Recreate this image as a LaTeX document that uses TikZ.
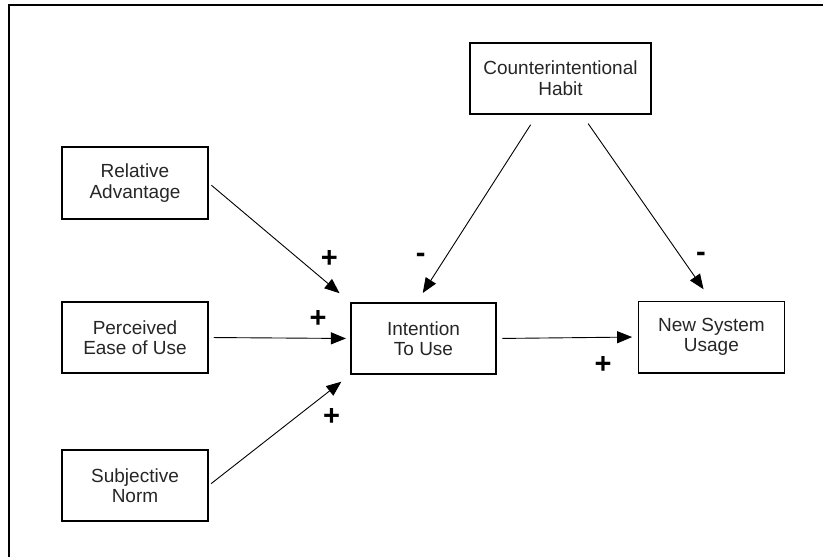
\documentclass[tikz,border=0pt]{standalone}
\usepackage{fontspec}
\setmainfont{Liberation Sans}
\usetikzlibrary{arrows.meta}
\tikzset{
  box/.style={draw=black, line width=1.5pt, inner sep=0pt, align=center,
    font=\fontsize{19}{20.5}\selectfont, text=black!85},
  conn/.style={line width=0.9pt, -{Triangle[length=15pt,width=12pt]}},
  sign/.style={anchor=base, inner sep=0pt, font=\fontsize{29}{29}\selectfont\bfseries}
}
\begin{document}
\begin{tikzpicture}[x=1pt,y=-1pt]
\useasboundingbox (0,0) rectangle (823,557);
\draw[line width=1.8pt] (9,560) -- (9,5) -- (826,5);
% boxes
\node[box, minimum width=146pt, minimum height=72pt] (ra) at (135,183) {Relative\\Advantage};
\node[box, minimum width=146pt, minimum height=71pt] (pe) at (135,337.5) {Perceived\\Ease of Use};
\node[box, minimum width=146pt, minimum height=71pt] (sn) at (135,485.5) {Subjective\\Norm};
\node[box, minimum width=145pt, minimum height=71pt] (int) at (423.5,338.5) {Intention\\To Use};
\node[box, minimum width=146pt, minimum height=71.5pt] (nsu) at (711.4,337) {New System\\Usage};
\node[box, minimum width=181pt, minimum height=71.3pt] (hab) at (560.5,78.4) {Counterintentional\\Habit};
% connectors
\draw[conn, shorten <=3.5pt, shorten >=14pt] (ra.east) -- (int.north west);
\draw[conn, shorten <=5pt, shorten >=4.3pt] (pe.east) -- (int.west);
\draw[conn, shorten <=3pt, shorten >=11.3pt] (sn.east) -- (int.south west);
\draw[conn, shorten <=11.8pt, shorten >=11pt] ([xshift=-23.5pt]hab.south) -- ([xshift=-6.7pt]int.north);
\draw[conn, shorten <=10.8pt, shorten >=13.7pt] ([xshift=21.5pt]hab.south) -- (nsu.north);
\draw[conn, shorten <=5.7pt, shorten >=5.5pt] (int.east) -- (nsu.west);
% signs
\node[sign] (s1) at (329.3,267.6) {+};
\node[sign] (s2) at (318,327) {+};
\node[sign] (s3) at (331.7,425.8) {+};
\node[sign] (s4) at (603,373) {+};
\node[sign] (s5) at (420.7,262.5) {-};
\node[sign] (s6) at (701,261) {-};
\end{tikzpicture}
\end{document}
